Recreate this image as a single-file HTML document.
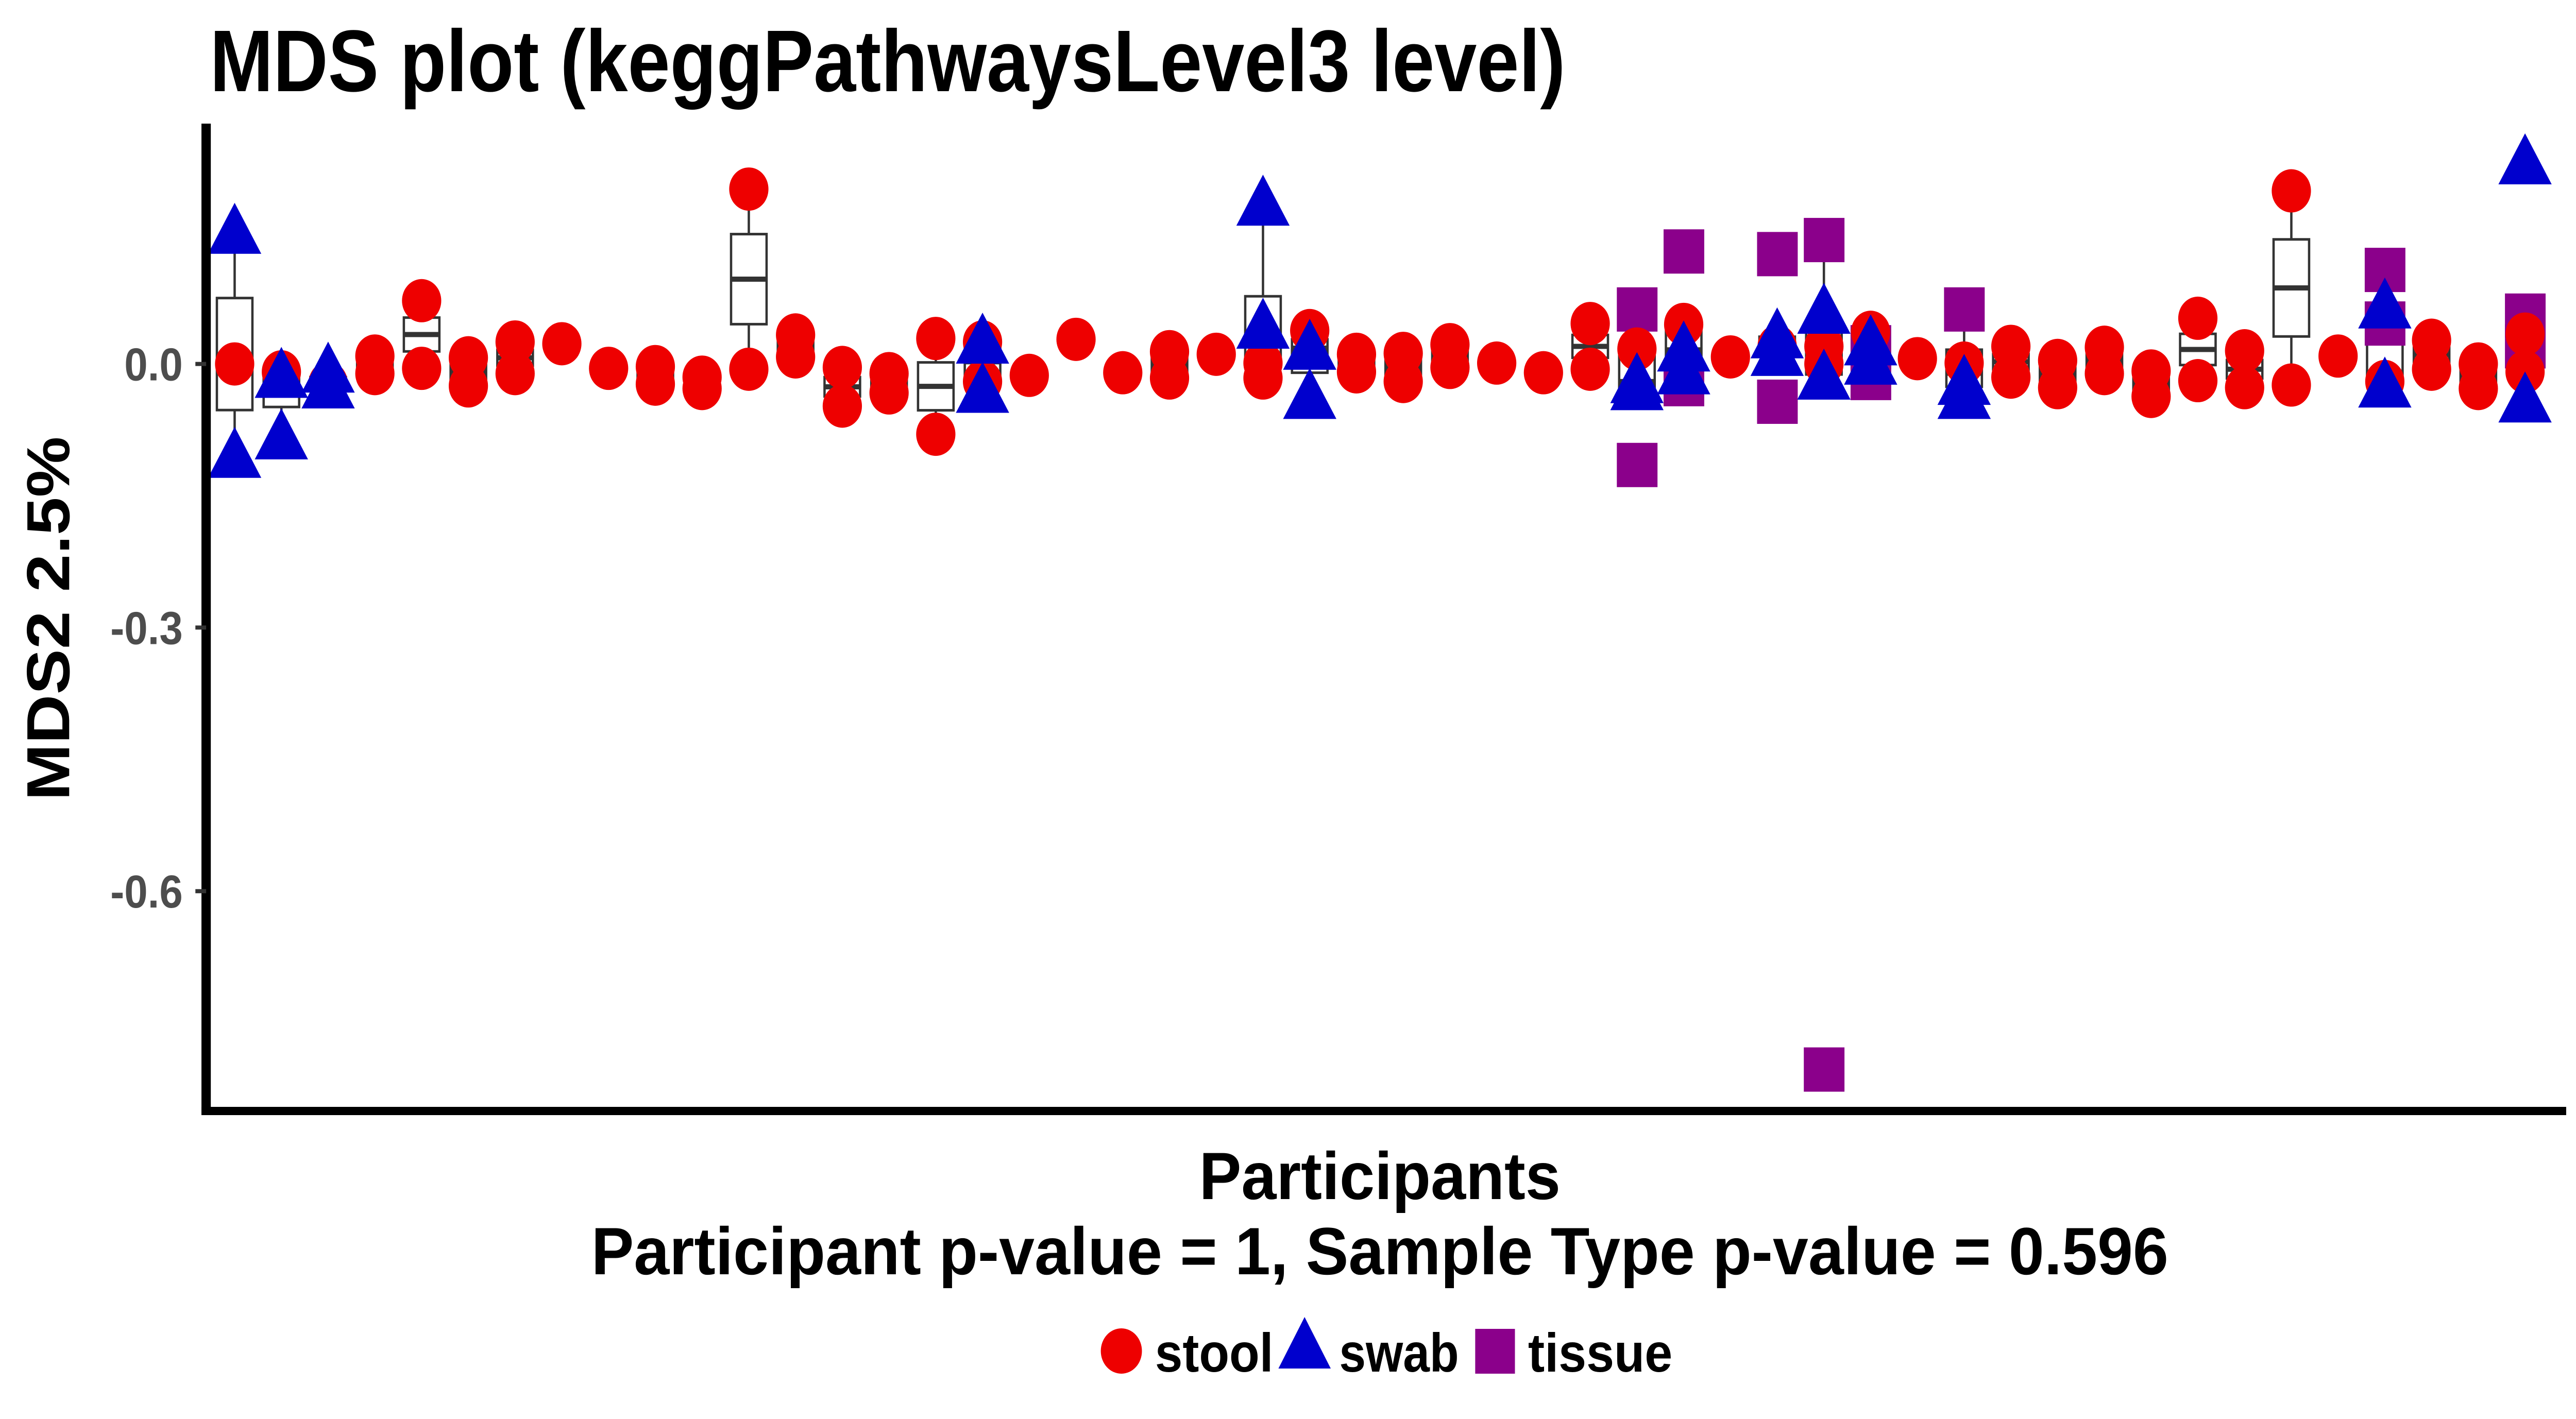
<!DOCTYPE html>
<html><head><meta charset="utf-8"><style>
html,body{margin:0;padding:0;background:#fff;overflow:hidden;width:100vw;height:100vh;}
svg{display:block;width:100vw;height:100vh;font-family:"Liberation Sans",Arial,sans-serif;font-weight:bold;}
</style></head><body>
<svg id="chart" viewBox="0 0 5511 2755" preserveAspectRatio="none" xmlns="http://www.w3.org/2000/svg">
<text x="449" y="177" font-size="170" textLength="2900" lengthAdjust="spacingAndGlyphs" fill="#000">MDS plot (keggPathwaysLevel3 level)</text>
<g id="boxes"></g>
<g id="points"></g>
<line x1="441" y1="240" x2="441" y2="2165" stroke="#000" stroke-width="20"/>
<line x1="431" y1="2157" x2="5490" y2="2157" stroke="#000" stroke-width="16"/>
<g id="yticks"></g>
<text transform="translate(148,1201) rotate(-90)" text-anchor="middle" font-size="130" textLength="707" lengthAdjust="spacingAndGlyphs" fill="#000">MDS2 2.5%</text>
<text x="2952" y="2328" text-anchor="middle" font-size="130" textLength="773" lengthAdjust="spacingAndGlyphs" fill="#000">Participants</text>
<text x="2952" y="2474" text-anchor="middle" font-size="130" textLength="3374" lengthAdjust="spacingAndGlyphs" fill="#000">Participant p-value = 1, Sample Type p-value = 0.596</text>
<g>
<circle cx="2399" cy="2623" r="44" fill="#EE0000"/>
<text x="2471" y="2663" font-size="106" textLength="253" lengthAdjust="spacingAndGlyphs">stool</text>
<polygon points="2791,2557 2735,2657 2847,2657" fill="#0000CD"/>
<text x="2865" y="2663" font-size="106" textLength="256" lengthAdjust="spacingAndGlyphs">swab</text>
<rect x="3156" y="2580" width="85" height="87" fill="#8B008B"/>
<text x="3269" y="2663" font-size="106" textLength="309" lengthAdjust="spacingAndGlyphs">tissue</text>
</g>
</svg>
<script>
const yTicks = [0.0, -0.3, -0.6];
const yTickLabels = ["0.0", "-0.3", "-0.6"];
const nParticipants = 50;
const stoolP = [0,1,2,3,3,4,4,5,5,6,6,7,8,9,9,10,10,11,11,12,12,13,13,14,14,15,15,16,16,17,18,19,20,20,21,22,22,23,24,24,25,25,26,26,27,28,29,29,30,31,32,33,34,34,35,36,37,38,38,39,39,40,40,41,41,42,42,43,43,44,44,45,46,47,47,48,48,49,49];
const stoolV = [0.0,-0.009,-0.022,0.009,-0.011,0.072,-0.005,0.007,-0.025,0.025,-0.011,0.023,-0.005,-0.003,-0.023,-0.015,-0.028,0.199,-0.006,0.033,0.008,-0.004,-0.048,-0.011,-0.033,0.029,-0.080,0.025,-0.020,-0.013,0.028,-0.010,0.014,-0.016,0.011,0.001,-0.016,0.038,0.011,-0.009,0.012,-0.020,0.022,-0.004,0.001,-0.010,0.046,-0.006,0.017,0.045,0.008,0.020,0.020,0.0,0.036,0.006,0.001,0.020,-0.015,0.004,-0.027,0.019,-0.011,-0.008,-0.037,0.052,-0.019,0.015,-0.027,0.197,-0.024,0.009,-0.020,0.027,-0.006,0.000,-0.028,0.034,-0.009];
const swabP = [0,0,1,1,2,2,16,16,22,22,23,23,30,30,31,31,33,33,34,34,35,35,37,37,46,46,49,49];
const swabV = [0.150,-0.105,-0.014,-0.084,-0.008,-0.026,0.025,-0.031,0.182,0.042,0.018,-0.038,-0.020,-0.028,0.016,-0.010,0.031,0.011,0.059,-0.016,0.023,0.001,-0.022,-0.038,0.065,-0.025,0.229,-0.042];
const tissueP = [30,30,31,31,33,33,34,34,35,35,37,46,46,49,49];
const tissueV = [0.062,-0.115,0.128,-0.023,0.125,-0.043,0.141,-0.803,0.019,-0.016,0.062,0.107,0.046,0.055,0.020];

const NS = "http://www.w3.org/2000/svg";
function xScale(i){ return 502 + i*100; }
function yScale(v){ return 706.6 - v*1706; }
function mk(tag, attrs, parent){ const e=document.createElementNS(NS,tag); for(const k in attrs) e.setAttribute(k,attrs[k]); parent.appendChild(e); return e; }

const tickG = document.getElementById('yticks');
yTicks.forEach((t,k)=>{
  const y = yScale(t);
  const ln = mk('line',{x1:418,x2:441,y1:y,y2:y,stroke:'#333',"stroke-width":8},tickG);
  
  
  const tx = mk('text',{x:391,y:y+32,"text-anchor":"end","font-size":90,fill:'#4D4D4D'},tickG);
  tx.textContent = yTickLabels[k];
  
  
});

function quant(s,p){ const h=(s.length-1)*p, lo=Math.floor(h), hi=Math.ceil(h); return s[lo]+(s[hi]-s[lo])*(h-lo); }
const boxG = document.getElementById('boxes');
for(let i=0;i<nParticipants;i++){
  const vals=[];
  stoolP.forEach((p,k)=>{ if(p===i) vals.push(stoolV[k]); });
  swabP.forEach((p,k)=>{ if(p===i) vals.push(swabV[k]); });
  tissueP.forEach((p,k)=>{ if(p===i) vals.push(tissueV[k]); });
  if(!vals.length) continue;
  vals.sort((a,b)=>a-b);
  const q1=quant(vals,0.25), md=quant(vals,0.5), q3=quant(vals,0.75), iqr=q3-q1;
  const inside=vals.filter(v=>v>=q1-1.5*iqr && v<=q3+1.5*iqr);
  const lo=Math.min(...inside), hi=Math.max(...inside);
  const cx=xScale(i), hw=38;
  const g = mk('g',{},boxG);
  
  
  mk('line',{x1:cx,x2:cx,y1:yScale(hi),y2:yScale(q3),stroke:'#333',"stroke-width":5},g);
  mk('line',{x1:cx,x2:cx,y1:yScale(q1),y2:yScale(lo),stroke:'#333',"stroke-width":5},g);
  mk('rect',{x:cx-hw,y:yScale(q3),width:2*hw,height:Math.max(0.5,yScale(q1)-yScale(q3)),fill:'#fff',stroke:'#333',"stroke-width":5},g);
  mk('line',{x1:cx-hw,x2:cx+hw,y1:yScale(md),y2:yScale(md),stroke:'#333',"stroke-width":10},g);
}

const ptG = document.getElementById('points');
tissueP.forEach((p,k)=>{
  const cx=xScale(p), cy=yScale(tissueV[k]);
  const r = mk('rect',{x:cx-43,y:cy-43,width:87,height:86,fill:'#8B008B'},ptG);
  
  
});
stoolP.forEach((p,k)=>{
  const c = mk('circle',{cx:xScale(p),cy:yScale(stoolV[k]),r:42,fill:'#EE0000'},ptG);
  
  
});
swabP.forEach((p,k)=>{
  const cx=xScale(p), cy=yScale(swabV[k]);
  const t = mk('polygon',{points:`${cx},${cy-57} ${cx-57},${cy+42} ${cx+57},${cy+42}`,fill:'#0000CD'},ptG);
  
  
});
</script>
</body></html>
